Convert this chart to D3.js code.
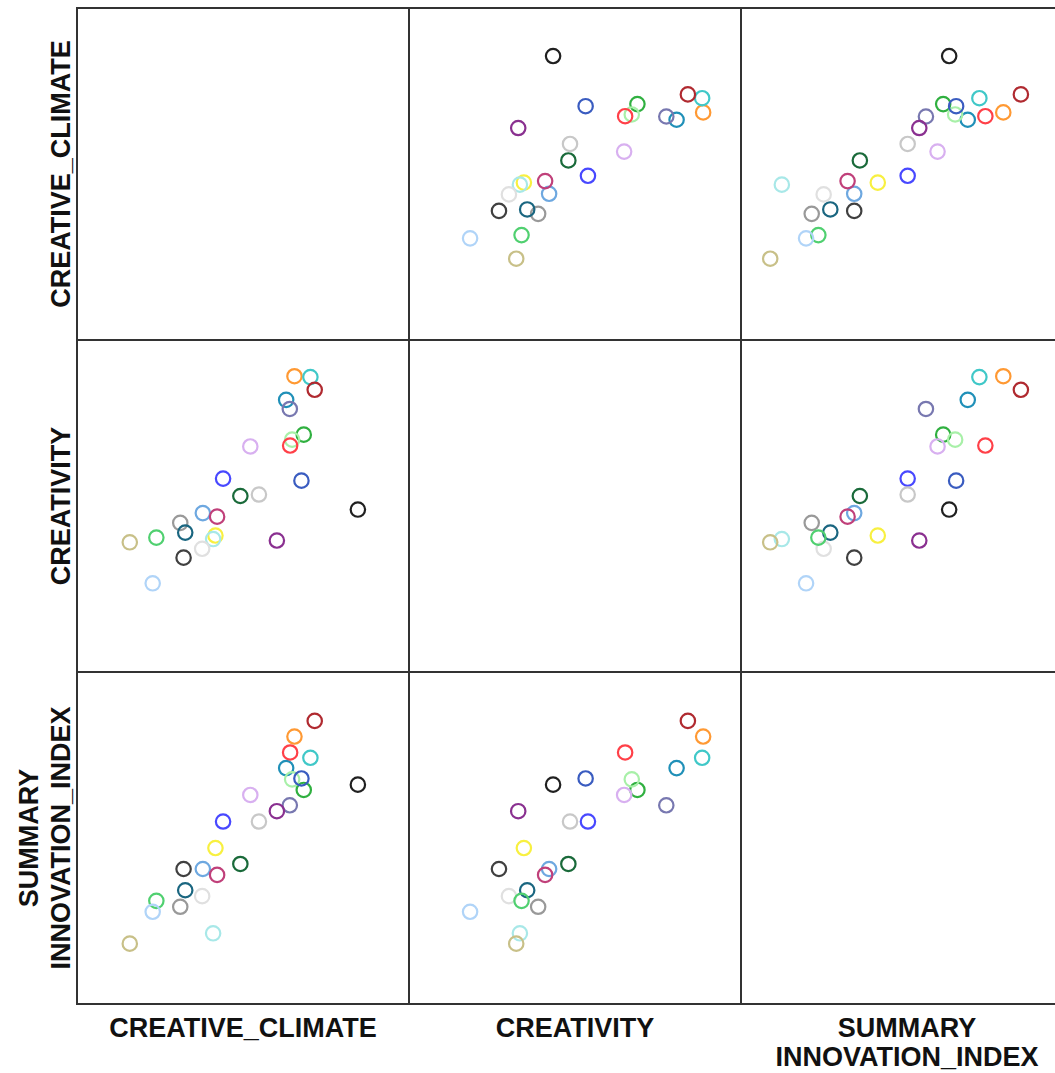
<!DOCTYPE html>
<html>
<head>
<meta charset="utf-8">
<script src="https://cdn.jsdelivr.net/npm/d3@7"></script>
<style>
  body { margin: 0; background: #fff; overflow: hidden; }
  text { font-family: "Liberation Sans", Arial, sans-serif; font-weight: bold; fill: #111; }
</style>
</head>
<body>
<script>
//Width and height
var margin = {top: 8, left: 77};
var cell = 332;
var width = 1055;
var height = 1073;

//variable names (rows / columns)
var variables = ["CREATIVE_CLIMATE", "CREATIVITY", "SUMMARY_INNOVATION_INDEX"];
var bottomLabels = [["CREATIVE_CLIMATE"], ["CREATIVITY"], ["SUMMARY", "INNOVATION_INDEX"]];
var leftLabels = [["CREATIVE_CLIMATE"], ["CREATIVITY"], ["SUMMARY", "INNOVATION_INDEX"]];

//one colour per case
var pointColors = [
    "#ff9933", "#40c8c8", "#b02a30", "#2090b8", "#7878b0", "#30b040",
    "#a8f0a8", "#ff4048", "#d8b0f0", "#4848ff", "#3a5cc0", "#1a6a3a",
    "#c8c8c8", "#202020", "#6ea8e0", "#c0407a", "#999999", "#1a6680",
    "#f8f040", "#a8e8e8", "#e0e0e0", "#8a3090", "#c8c088", "#50d070",
    "#404040", "#b0d4f8"
];

//case values
var creativeClimate = [
    0.655, 0.703, 0.716, 0.630, 0.641, 0.683, 0.648, 0.642, 0.522, 0.440,
    0.676, 0.492, 0.548, 0.846, 0.379, 0.422, 0.311, 0.326, 0.417, 0.410,
    0.377, 0.602, 0.159, 0.239, 0.321, 0.228
];
var creativity = [
    0.886, 0.883, 0.840, 0.806, 0.775, 0.688, 0.671, 0.651, 0.648, 0.539,
    0.532, 0.480, 0.485, 0.434, 0.422, 0.410, 0.389, 0.356, 0.346, 0.334,
    0.301, 0.329, 0.323, 0.339, 0.271, 0.184
];
var summaryInnovationIndex = [
    0.790, 0.718, 0.843, 0.683, 0.557, 0.609, 0.645, 0.736, 0.592, 0.502,
    0.648, 0.358, 0.502, 0.627, 0.341, 0.321, 0.213, 0.269, 0.412, 0.123,
    0.249, 0.537, 0.088, 0.233, 0.341, 0.196
];

var columns = [creativeClimate, creativity, summaryInnovationIndex];

//
var dataset = pointColors.map(function(c, i) {
    return {color: c, values: columns.map(function(col) { return col[i]; })};
});

var xScale = d3.scaleLinear().domain([0, 1]).range([0, cell]);
var yScale = d3.scaleLinear().domain([0, 1]).range([297.6, 2.6]);

var svg = d3.select("body")
    .append("svg")
    .attr("width", width)
    .attr("height", height);

var matrix = svg.append("g")
    .attr("transform", "translate(" + margin.left + "," + margin.top + ")");

var cells = [];
variables.forEach(function(rv, r) {
    variables.forEach(function(cv, c) {
        cells.push({row: r, col: c});
    });
});

var cellGroups = matrix.selectAll("g.cell")
    .data(cells)
    .enter()
    .append("g")
    .attr("class", "cell")
    .attr("transform", function(d) {
        return "translate(" + (d.col * cell) + "," + (d.row * cell) + ")";
    });

//points (diagonal stays empty)
cellGroups.filter(function(d) { return d.row !== d.col; })
    .each(function(p) {
        d3.select(this).selectAll("circle")
            .data(dataset)
            .enter()
            .append("circle")
            .attr("cx", function(d) { return xScale(d.values[p.col]); })
            .attr("cy", function(d) { return yScale(d.values[p.row]); })
            .attr("r", 7.2)
            .attr("fill", "none")
            .attr("stroke", function(d) { return d.color; })
            .attr("stroke-width", 2.2);
    });

//cell borders
cellGroups.append("rect")
    .attr("width", cell)
    .attr("height", cell)
    .attr("fill", "none")
    .attr("stroke", "#333")
    .attr("stroke-width", 2);

//bottom labels
var bottom = svg.append("g");
bottomLabels.forEach(function(lines, i) {
    var t = bottom.append("text")
        .attr("text-anchor", "middle")
        .attr("font-size", 27)
        .attr("x", margin.left + i * cell + cell / 2)
        .attr("y", 1037);
    lines.forEach(function(s, k) {
        t.append("tspan")
            .attr("x", margin.left + i * cell + cell / 2)
            .attr("dy", k === 0 ? 0 : 29)
            .text(s);
    });
});

//left labels
var left = svg.append("g");
leftLabels.forEach(function(lines, i) {
    var cy = margin.top + i * cell + cell / 2;
    var base = 70 - (lines.length - 1) * 32;
    var t = left.append("text")
        .attr("text-anchor", "middle")
        .attr("font-size", 27)
        .attr("transform", "translate(" + base + "," + cy + ") rotate(-90)");
    lines.forEach(function(s, k) {
        t.append("tspan")
            .attr("x", 0)
            .attr("dy", k === 0 ? 0 : 32)
            .text(s);
    });
});
</script>
</body>
</html>
